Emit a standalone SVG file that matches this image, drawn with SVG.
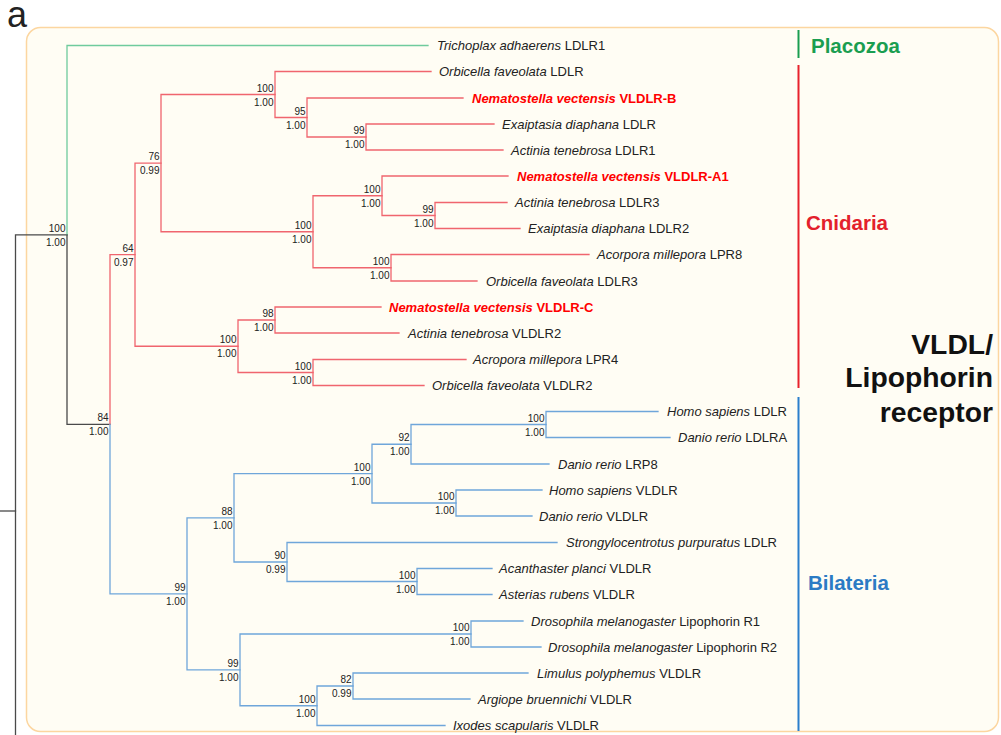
<svg xmlns="http://www.w3.org/2000/svg" width="1001" height="735" viewBox="0 0 1001 735">
<style>
text{font-family:"Liberation Sans",Arial,sans-serif}
.lf{font-size:13px;fill:#222}
.nv{font-size:13px;fill:#ff0000;font-weight:bold}
.i{font-style:italic}
.bs{font-size:10px;fill:#222;text-anchor:end}
.br{fill:none;stroke-width:1.3;stroke-linecap:square}
.red{stroke:#f0656e}
.blue{stroke:#6fa6da}
.green{stroke:#6fcb9d}
.blk{stroke:#4a4a4a}
.clade{font-size:20.5px;font-weight:bold}
.big{font-size:28.3px;font-weight:bold;fill:#111;text-anchor:end}
</style>
<rect x="26.5" y="27.5" width="972" height="704" rx="14" fill="#fffdf4" stroke="#fcd6a0" stroke-width="1.5"/>
<text x="7" y="27" style="font-size:36px;fill:#222">a</text>

<g id="connectors">
<path class="br blk" d="M15.5 740 V234.9 H67"/>
<path class="br blk" d="M0 511 H15.5"/>
<path class="br green" d="M428 45.5 H67 V234.9"/>
<path class="br blk" d="M67 234.9 V424.3 H110"/>
<path class="br red" d="M110 424.3 V254.7 H135"/>
<path class="br blue" d="M110 424.3 V593.85 H187"/>
<!-- Cnidaria -->
<path class="br red" d="M161 163.1 H135 V346.25 H238"/>
<path class="br red" d="M275 94.5 H161 V231.75 H313"/>
<path class="br red" d="M431 71.5 H275 V117.5 H307"/>
<path class="br red" d="M463 98 H307 V137 H366"/>
<path class="br red" d="M494 124 H366 V150 H503"/>
<path class="br red" d="M382 195.75 H313 V267.75 H391"/>
<path class="br red" d="M508 176 H382 V215.5 H435"/>
<path class="br red" d="M507 202.5 H435 V228.5 H520"/>
<path class="br red" d="M589 254.5 H391 V281 H477"/>
<path class="br red" d="M275 320 H238 V372.5 H313"/>
<path class="br red" d="M381 307 H275 V333 H399"/>
<path class="br red" d="M466 359.5 H313 V385.5 H424"/>
<!-- Bilateria -->
<path class="br blue" d="M234 517.8 H187 V669.9 H240"/>
<path class="br blue" d="M372 473.6 H234 V562 H287"/>
<path class="br blue" d="M411 444.25 H372 V503 H456"/>
<path class="br blue" d="M546 424.5 H411 V464 H549"/>
<path class="br blue" d="M658 411.5 H546 V437.5 H670"/>
<path class="br blue" d="M542 490 H456 V516 H532"/>
<path class="br blue" d="M557 542.5 H287 V581.5 H417"/>
<path class="br blue" d="M492 568.5 H417 V594.5 H492"/>
<path class="br blue" d="M471 634 H240 V705.75 H317"/>
<path class="br blue" d="M523 621 H471 V647 H541"/>
<path class="br blue" d="M353 686 H317 V725.5 H445"/>
<path class="br blue" d="M528 673 H353 V699 H470"/>
</g>

<g id="support">
<text class="bs" x="65.5" y="232">100</text><text class="bs" x="65.5" y="246">1.00</text>
<text class="bs" x="108.5" y="421.3">84</text><text class="bs" x="108.5" y="435.3">1.00</text>
<text class="bs" x="133.5" y="251.7">64</text><text class="bs" x="133.5" y="265.7">0.97</text>
<text class="bs" x="159.5" y="160.1">76</text><text class="bs" x="159.5" y="174.1">0.99</text>
<text class="bs" x="273.5" y="91.5">100</text><text class="bs" x="273.5" y="105.5">1.00</text>
<text class="bs" x="305.5" y="114.5">95</text><text class="bs" x="305.5" y="128.5">1.00</text>
<text class="bs" x="364.5" y="134">99</text><text class="bs" x="364.5" y="148">1.00</text>
<text class="bs" x="311.5" y="228.75">100</text><text class="bs" x="311.5" y="242.75">1.00</text>
<text class="bs" x="380.5" y="192.75">100</text><text class="bs" x="380.5" y="206.75">1.00</text>
<text class="bs" x="433.5" y="212.5">99</text><text class="bs" x="433.5" y="226.5">1.00</text>
<text class="bs" x="389.5" y="264.75">100</text><text class="bs" x="389.5" y="278.75">1.00</text>
<text class="bs" x="236.5" y="343.25">100</text><text class="bs" x="236.5" y="357.25">1.00</text>
<text class="bs" x="273.5" y="317">98</text><text class="bs" x="273.5" y="331">1.00</text>
<text class="bs" x="311.5" y="369.5">100</text><text class="bs" x="311.5" y="383.5">1.00</text>
<text class="bs" x="185.5" y="590.85">99</text><text class="bs" x="185.5" y="604.85">1.00</text>
<text class="bs" x="232.5" y="514.8">88</text><text class="bs" x="232.5" y="528.8">1.00</text>
<text class="bs" x="370.5" y="470.6">100</text><text class="bs" x="370.5" y="484.6">1.00</text>
<text class="bs" x="409.5" y="441.25">92</text><text class="bs" x="409.5" y="455.25">1.00</text>
<text class="bs" x="544.5" y="421.5">100</text><text class="bs" x="544.5" y="435.5">1.00</text>
<text class="bs" x="454.5" y="500">100</text><text class="bs" x="454.5" y="514">1.00</text>
<text class="bs" x="285.5" y="559">90</text><text class="bs" x="285.5" y="573">0.99</text>
<text class="bs" x="415.5" y="578.5">100</text><text class="bs" x="415.5" y="592.5">1.00</text>
<text class="bs" x="238.5" y="666.9">99</text><text class="bs" x="238.5" y="680.9">1.00</text>
<text class="bs" x="469.5" y="631">100</text><text class="bs" x="469.5" y="645">1.00</text>
<text class="bs" x="315.5" y="702.75">100</text><text class="bs" x="315.5" y="716.75">1.00</text>
<text class="bs" x="351.5" y="683">82</text><text class="bs" x="351.5" y="697">0.99</text>
</g>

<g id="leaf-trichoplax"><text class="lf" x="437" y="50"><tspan class="i">Trichoplax adhaerens</tspan> LDLR1</text></g>
<g id="leaf-orbicella-ldlr"><text class="lf" x="439" y="76"><tspan class="i">Orbicella faveolata</tspan> LDLR</text></g>
<g id="leaf-nv-vldlr-b"><text class="nv" x="472" y="102.5"><tspan class="i">Nematostella vectensis</tspan> VLDLR-B</text></g>
<g id="leaf-exaiptasia-ldlr"><text class="lf" x="502" y="128.5"><tspan class="i">Exaiptasia diaphana</tspan> LDLR</text></g>
<g id="leaf-actinia-ldlr1"><text class="lf" x="511" y="154.5"><tspan class="i">Actinia tenebrosa</tspan> LDLR1</text></g>
<g id="leaf-nv-vldlr-a1"><text class="nv" x="517" y="180.5"><tspan class="i">Nematostella vectensis</tspan> VLDLR-A1</text></g>
<g id="leaf-actinia-ldlr3"><text class="lf" x="515" y="207"><tspan class="i">Actinia tenebrosa</tspan> LDLR3</text></g>
<g id="leaf-exaiptasia-ldlr2"><text class="lf" x="528" y="233"><tspan class="i">Exaiptasia diaphana</tspan> LDLR2</text></g>
<g id="leaf-acorpora-lpr8"><text class="lf" x="597" y="259"><tspan class="i">Acorpora millepora</tspan> LPR8</text></g>
<g id="leaf-orbicella-ldlr3"><text class="lf" x="486" y="285.5"><tspan class="i">Orbicella faveolata</tspan> LDLR3</text></g>
<g id="leaf-nv-vldlr-c"><text class="nv" x="389" y="311.5"><tspan class="i">Nematostella vectensis</tspan> VLDLR-C</text></g>
<g id="leaf-actinia-vldlr2"><text class="lf" x="408" y="337.5"><tspan class="i">Actinia tenebrosa</tspan> VLDLR2</text></g>
<g id="leaf-acropora-lpr4"><text class="lf" x="473" y="364"><tspan class="i">Acropora millepora</tspan> LPR4</text></g>
<g id="leaf-orbicella-vldlr2"><text class="lf" x="432" y="390"><tspan class="i">Orbicella faveolata</tspan> VLDLR2</text></g>
<g id="leaf-homo-ldlr"><text class="lf" x="667" y="416"><tspan class="i">Homo sapiens</tspan> LDLR</text></g>
<g id="leaf-danio-ldlra"><text class="lf" x="678" y="442"><tspan class="i">Danio rerio</tspan> LDLRA</text></g>
<g id="leaf-danio-lrp8"><text class="lf" x="558" y="468.5"><tspan class="i">Danio rerio</tspan> LRP8</text></g>
<g id="leaf-homo-vldlr"><text class="lf" x="549" y="494.5"><tspan class="i">Homo sapiens</tspan> VLDLR</text></g>
<g id="leaf-danio-vldlr"><text class="lf" x="539" y="520.5"><tspan class="i">Danio rerio</tspan> VLDLR</text></g>
<g id="leaf-strongylocentrotus"><text class="lf" x="566" y="547"><tspan class="i">Strongylocentrotus purpuratus</tspan> LDLR</text></g>
<g id="leaf-acanthaster"><text class="lf" x="499" y="573"><tspan class="i">Acanthaster planci</tspan> VLDLR</text></g>
<g id="leaf-asterias"><text class="lf" x="499" y="599"><tspan class="i">Asterias rubens</tspan> VLDLR</text></g>
<g id="leaf-dros-r1"><text class="lf" x="531" y="625.5"><tspan class="i">Drosophila melanogaster</tspan> Lipophorin R1</text></g>
<g id="leaf-dros-r2"><text class="lf" x="548" y="651.5"><tspan class="i">Drosophila melanogaster</tspan> Lipophorin R2</text></g>
<g id="leaf-limulus"><text class="lf" x="537" y="677.5"><tspan class="i">Limulus polyphemus</tspan> VLDLR</text></g>
<g id="leaf-argiope"><text class="lf" x="478" y="703.5"><tspan class="i">Argiope bruennichi</tspan> VLDLR</text></g>
<g id="leaf-ixodes"><text class="lf" x="453" y="730"><tspan class="i">Ixodes scapularis</tspan> VLDLR</text></g>

<g id="clade-placozoa">
<line x1="798.5" y1="30" x2="798.5" y2="58" stroke="#1a9e50" stroke-width="2"/>
<text class="clade" x="811" y="53" fill="#1a9e50">Placozoa</text>
</g>
<g id="clade-cnidaria">
<line x1="798.5" y1="65" x2="798.5" y2="388" stroke="#e8222c" stroke-width="2"/>
<text class="clade" x="806" y="229.5" fill="#e3202b">Cnidaria</text>
</g>
<g id="clade-bilateria">
<line x1="798.5" y1="397" x2="798.5" y2="731" stroke="#2b7fcc" stroke-width="2"/>
<text class="clade" x="808" y="589.5" fill="#2b7bc4">Bilateria</text>
</g>
<g id="family-label">
<text class="big" x="993" y="353.5">VLDL/</text>
<text class="big" x="993" y="387">Lipophorin</text>
<text class="big" x="993" y="421.5">receptor</text>
</g>
</svg>
